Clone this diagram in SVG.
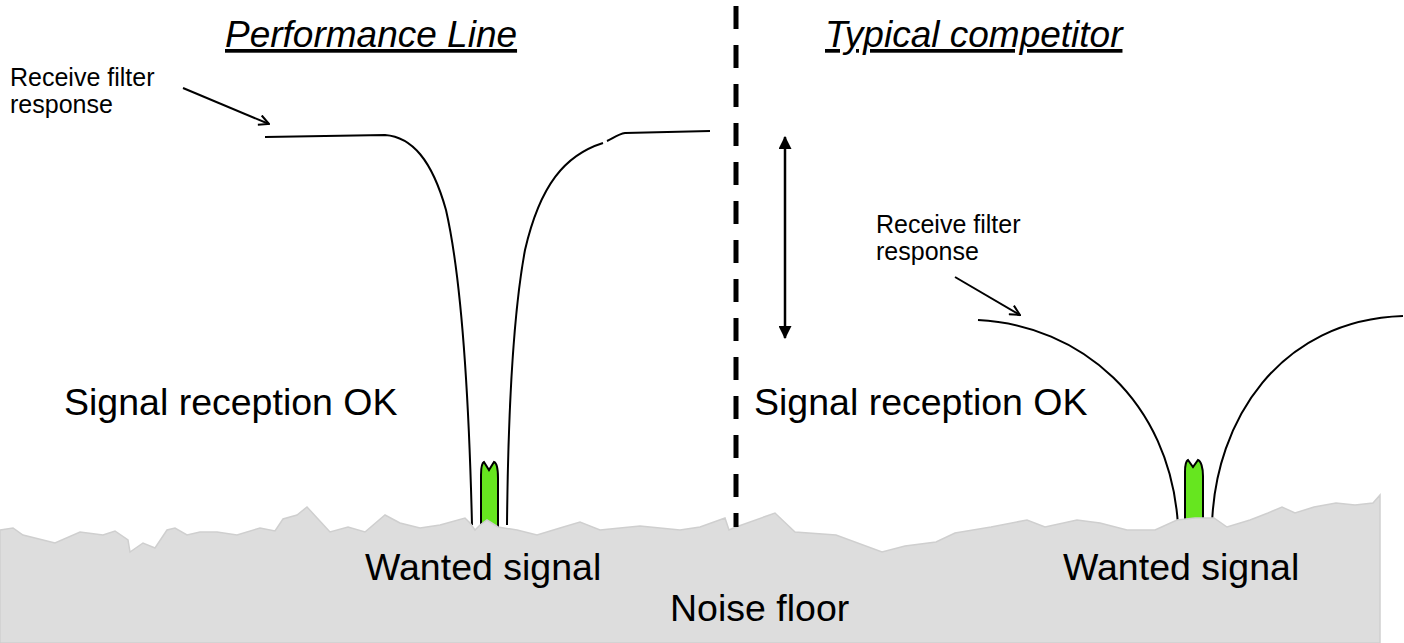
<svg xmlns="http://www.w3.org/2000/svg" width="1404" height="643" viewBox="0 0 1404 643">
<style>
.big{font-family:"Liberation Sans",Arial,sans-serif;font-size:37.5px;fill:#000}
.title{font-family:"Liberation Sans",Arial,sans-serif;font-size:37px;font-style:italic;text-decoration:underline;fill:#000}
.small{font-family:"Liberation Sans",Arial,sans-serif;font-size:25px;fill:#000}
.curve{fill:none;stroke:#000;stroke-width:2}
.sig{fill:#66e61f;stroke:#000;stroke-width:2}
.callout{fill:none;stroke:#000;stroke-width:2}
</style>
<defs>
<marker id="open" viewBox="0 0 12 12" refX="11" refY="6" markerWidth="12" markerHeight="12" markerUnits="userSpaceOnUse" orient="auto">
<path d="M1,1 L11,6 L1,11" fill="none" stroke="#000" stroke-width="2"/>
</marker>
<marker id="solid" viewBox="0 0 12 12" refX="11" refY="6" markerWidth="13" markerHeight="13" markerUnits="userSpaceOnUse" orient="auto-start-reverse">
<path d="M0,0 L12,6 L0,12 Z" fill="#000"/>
</marker>
</defs>
<rect width="1404" height="643" fill="#fff"/>

<g id="performance-filter">
<path class="curve" d="M265,137 L385,135 C412,137 432,160 446,210 C462,280 469,400 472,525"/>
<path class="curve" d="M507,525 C508,420 512,320 525,250 C540,185 565,155 603,143"/>
<path class="curve" d="M607,141 C612,139 618,134 625,133 L710,131"/>
</g>

<g id="competitor-filter">
<path class="curve" d="M978,320 C1080,325 1170,400 1178,525"/>
<path class="curve" d="M1212,525 C1215,420 1280,320 1403,316"/>
</g>

<g id="wanted-signal-left">
<path class="sig" d="M481,528 L481,475 C481,468 482,463 484,462 L489,470 L494,462 C497,463 498,470 498,478 L498,528 Z"/>
</g>
<g id="wanted-signal-right">
<path class="sig" d="M1185,528 L1185,472 C1185,466 1186,461 1188,460 L1193,467 L1198,460 C1201,461 1203,468 1203,476 L1203,528 Z"/>
</g>

<g id="noise-floor">
<path fill="#dddddd" stroke="#cfcfcf" stroke-width="1.5" d="M0,530 L13,528 L23,535 L55,543 L80,532 L103,535 L115,531 L128,540 L130,552 L143,543 L155,548 L167,530 L175,528 L187,535 L200,532 L217,532 L237,535 L260,528 L275,531 L283,519 L297,515 L307,507 L330,532 L348,527 L365,532 L385,515 L400,523 L420,528 L440,525 L465,518 L470,523 L475,530 L480,525 L487,520 L498,527 L517,530 L537,535 L560,528 L580,522 L600,530 L640,526 L680,530 L700,527 L725,518 L729,530 L736,527 L775,513 L795,532 L836,535 L882,552 L905,546 L936,542 L955,533 L973,530 L991,527 L1027,520 L1045,527 L1077,520 L1100,523 L1127,530 L1155,530 L1177,520 L1195,518 L1214,518 L1227,527 L1250,520 L1268,513 L1282,507 L1295,513 L1314,507 L1336,503 L1355,505 L1373,503 L1380,495 L1380,643 L0,643 Z"/>
</g>

<g id="divider">
<line x1="736" y1="6" x2="736" y2="527" stroke="#000" stroke-width="5" stroke-dasharray="23 16"/>
</g>

<g id="connectors">
<line class="callout" x1="183" y1="88" x2="269" y2="124" marker-end="url(#open)"/>
<line class="callout" x1="955" y1="277" x2="1020" y2="315" marker-end="url(#open)"/>
<line x1="785" y1="137" x2="785" y2="338" stroke="#000" stroke-width="2.5" marker-start="url(#solid)" marker-end="url(#solid)"/>
</g>

<g id="labels">
<text class="title" x="225" y="47">Performance Line</text>
<text class="title" x="825" y="47">Typical competitor</text>
<text class="small" x="10" y="86">Receive filter</text>
<text class="small" x="10" y="113">response</text>
<text class="small" x="876" y="233">Receive filter</text>
<text class="small" x="876" y="260">response</text>
<text class="big" x="64" y="415">Signal reception OK</text>
<text class="big" x="754" y="415">Signal reception OK</text>
<text class="big" x="365" y="580">Wanted signal</text>
<text class="big" x="1063" y="580">Wanted signal</text>
<text class="big" x="670" y="621">Noise floor</text>
</g>
</svg>
